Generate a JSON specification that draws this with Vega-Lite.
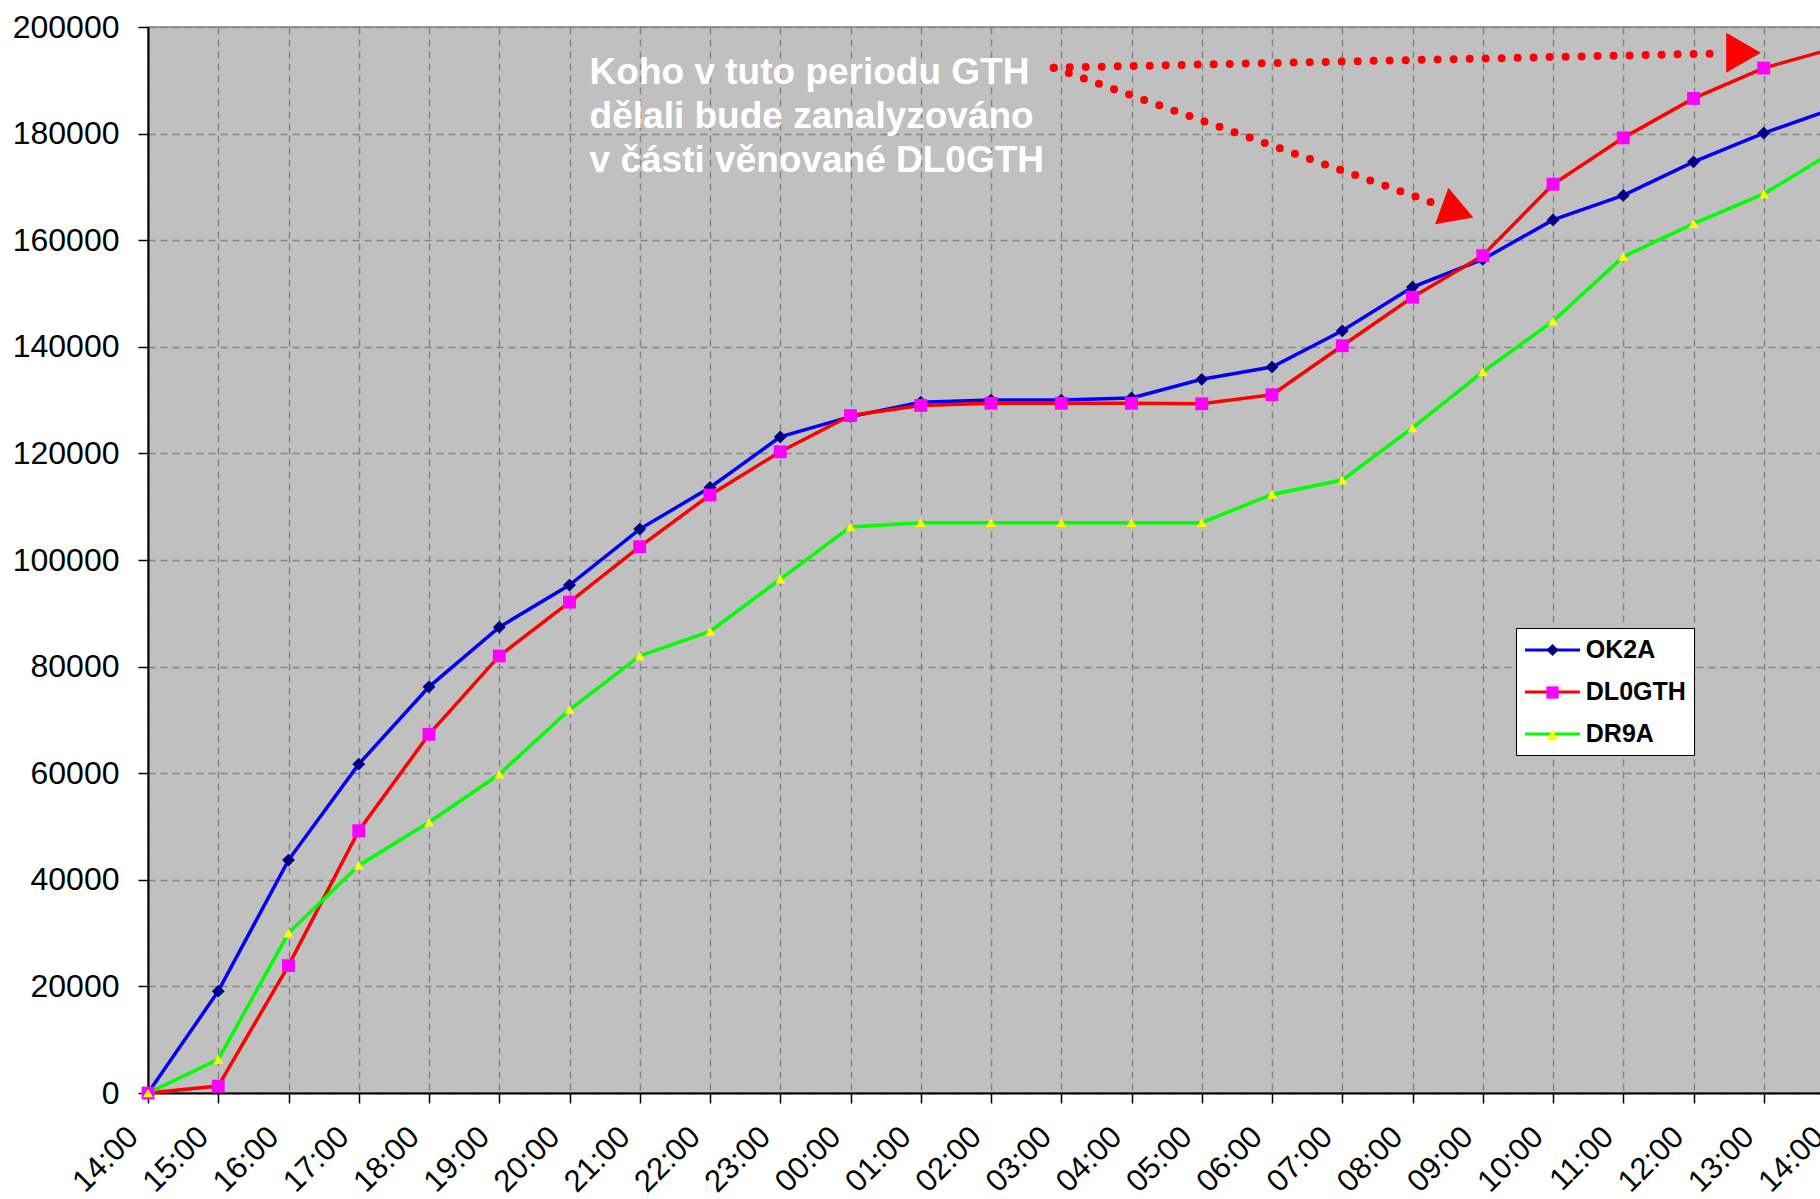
{
  "$schema": "https://vega.github.io/schema/vega-lite/v6.json",
  "width": 1686,
  "height": 1066,
  "autosize": {"type": "none"},
  "padding": {"left": 148, "top": 27, "right": 0, "bottom": 106},
  "background": "#ffffff",
  "config": {
    "font": "Liberation Sans",
    "view": {"fill": "#c0c0c0", "stroke": "#808080", "strokeWidth": 1.5},
    "axis": {
      "domainColor": "#000000",
      "domainWidth": 2,
      "tickColor": "#000000",
      "tickWidth": 1.5,
      "tickSize": 10,
      "labelColor": "#000000",
      "labelFont": "Liberation Sans",
      "grid": true,
      "gridColor": "#858585",
      "gridDash": [7, 5],
      "gridWidth": 1.5
    }
  },
  "datasets": {
    "scores": [
      {"time": "2000-01-01T14:00", "station": "OK2A", "score": 0},
      {"time": "2000-01-01T15:00", "station": "OK2A", "score": 19100},
      {"time": "2000-01-01T16:00", "station": "OK2A", "score": 43700},
      {"time": "2000-01-01T17:00", "station": "OK2A", "score": 61700},
      {"time": "2000-01-01T18:00", "station": "OK2A", "score": 76200},
      {"time": "2000-01-01T19:00", "station": "OK2A", "score": 87400},
      {"time": "2000-01-01T20:00", "station": "OK2A", "score": 95300},
      {"time": "2000-01-01T21:00", "station": "OK2A", "score": 105800},
      {"time": "2000-01-01T22:00", "station": "OK2A", "score": 113600},
      {"time": "2000-01-01T23:00", "station": "OK2A", "score": 123100},
      {"time": "2000-01-02T00:00", "station": "OK2A", "score": 126900},
      {"time": "2000-01-02T01:00", "station": "OK2A", "score": 129600},
      {"time": "2000-01-02T02:00", "station": "OK2A", "score": 130000},
      {"time": "2000-01-02T03:00", "station": "OK2A", "score": 130000},
      {"time": "2000-01-02T04:00", "station": "OK2A", "score": 130400},
      {"time": "2000-01-02T05:00", "station": "OK2A", "score": 133900},
      {"time": "2000-01-02T06:00", "station": "OK2A", "score": 136200},
      {"time": "2000-01-02T07:00", "station": "OK2A", "score": 143000},
      {"time": "2000-01-02T08:00", "station": "OK2A", "score": 151200},
      {"time": "2000-01-02T09:00", "station": "OK2A", "score": 156400},
      {"time": "2000-01-02T10:00", "station": "OK2A", "score": 163800},
      {"time": "2000-01-02T11:00", "station": "OK2A", "score": 168400},
      {"time": "2000-01-02T12:00", "station": "OK2A", "score": 174700},
      {"time": "2000-01-02T13:00", "station": "OK2A", "score": 180100},
      {"time": "2000-01-02T14:00", "station": "OK2A", "score": 184700},
      {"time": "2000-01-01T14:00", "station": "DL0GTH", "score": 0},
      {"time": "2000-01-01T15:00", "station": "DL0GTH", "score": 1300},
      {"time": "2000-01-01T16:00", "station": "DL0GTH", "score": 23900},
      {"time": "2000-01-01T17:00", "station": "DL0GTH", "score": 49200},
      {"time": "2000-01-01T18:00", "station": "DL0GTH", "score": 67300},
      {"time": "2000-01-01T19:00", "station": "DL0GTH", "score": 82000},
      {"time": "2000-01-01T20:00", "station": "DL0GTH", "score": 92100},
      {"time": "2000-01-01T21:00", "station": "DL0GTH", "score": 102500},
      {"time": "2000-01-01T22:00", "station": "DL0GTH", "score": 112200},
      {"time": "2000-01-01T23:00", "station": "DL0GTH", "score": 120300},
      {"time": "2000-01-02T00:00", "station": "DL0GTH", "score": 127100},
      {"time": "2000-01-02T01:00", "station": "DL0GTH", "score": 129000},
      {"time": "2000-01-02T02:00", "station": "DL0GTH", "score": 129400},
      {"time": "2000-01-02T03:00", "station": "DL0GTH", "score": 129400},
      {"time": "2000-01-02T04:00", "station": "DL0GTH", "score": 129400},
      {"time": "2000-01-02T05:00", "station": "DL0GTH", "score": 129300},
      {"time": "2000-01-02T06:00", "station": "DL0GTH", "score": 131000},
      {"time": "2000-01-02T07:00", "station": "DL0GTH", "score": 140200},
      {"time": "2000-01-02T08:00", "station": "DL0GTH", "score": 149300},
      {"time": "2000-01-02T09:00", "station": "DL0GTH", "score": 157100},
      {"time": "2000-01-02T10:00", "station": "DL0GTH", "score": 170500},
      {"time": "2000-01-02T11:00", "station": "DL0GTH", "score": 179200},
      {"time": "2000-01-02T12:00", "station": "DL0GTH", "score": 186600},
      {"time": "2000-01-02T13:00", "station": "DL0GTH", "score": 192300},
      {"time": "2000-01-02T14:00", "station": "DL0GTH", "score": 196000},
      {"time": "2000-01-01T14:00", "station": "DR9A", "score": 0},
      {"time": "2000-01-01T15:00", "station": "DR9A", "score": 6300},
      {"time": "2000-01-01T16:00", "station": "DR9A", "score": 30000},
      {"time": "2000-01-01T17:00", "station": "DR9A", "score": 42700},
      {"time": "2000-01-01T18:00", "station": "DR9A", "score": 50800},
      {"time": "2000-01-01T19:00", "station": "DR9A", "score": 59800},
      {"time": "2000-01-01T20:00", "station": "DR9A", "score": 71900},
      {"time": "2000-01-01T21:00", "station": "DR9A", "score": 82000},
      {"time": "2000-01-01T22:00", "station": "DR9A", "score": 86600},
      {"time": "2000-01-01T23:00", "station": "DR9A", "score": 96400},
      {"time": "2000-01-02T00:00", "station": "DR9A", "score": 106200},
      {"time": "2000-01-02T01:00", "station": "DR9A", "score": 107000},
      {"time": "2000-01-02T02:00", "station": "DR9A", "score": 107000},
      {"time": "2000-01-02T03:00", "station": "DR9A", "score": 107000},
      {"time": "2000-01-02T04:00", "station": "DR9A", "score": 107000},
      {"time": "2000-01-02T05:00", "station": "DR9A", "score": 107000},
      {"time": "2000-01-02T06:00", "station": "DR9A", "score": 112300},
      {"time": "2000-01-02T07:00", "station": "DR9A", "score": 115000},
      {"time": "2000-01-02T08:00", "station": "DR9A", "score": 124800},
      {"time": "2000-01-02T09:00", "station": "DR9A", "score": 135300},
      {"time": "2000-01-02T10:00", "station": "DR9A", "score": 144800},
      {"time": "2000-01-02T11:00", "station": "DR9A", "score": 156900},
      {"time": "2000-01-02T12:00", "station": "DR9A", "score": 163100},
      {"time": "2000-01-02T13:00", "station": "DR9A", "score": 168700},
      {"time": "2000-01-02T14:00", "station": "DR9A", "score": 176700}
    ],
    "arrows": [
      {"part": "top", "time": "2000-01-02T02:53:35", "score": 192364},
      {"part": "top", "time": "2000-01-02T12:20:56", "score": 195028},
      {"part": "down", "time": "2000-01-02T02:53:35", "score": 192364},
      {"part": "down", "time": "2000-01-02T08:15:43", "score": 167147}
    ],
    "headTop": [{"time": "2000-01-02T12:42:43", "score": 195178}],
    "headDown": [{"time": "2000-01-02T08:38:27", "score": 165347}],
    "note": [
      {"time": "2000-01-01T20:17:10", "score": 189306, "note": "Koho v tuto periodu GTH\ndělali bude zanalyzováno\nv části věnované DL0GTH"}
    ]
  },
  "encoding": {
    "x": {
      "field": "time",
      "type": "temporal",
      "scale": {
        "domain": [
          {"year": 2000, "month": 1, "date": 1, "hours": 14},
          {"year": 2000, "month": 1, "date": 2, "hours": 14}
        ],
        "nice": false
      },
      "axis": {
        "title": null,
        "format": "%H:%M",
        "values": [
          {"year": 2000, "month": 1, "date": 1, "hours": 14},
          {"year": 2000, "month": 1, "date": 1, "hours": 15},
          {"year": 2000, "month": 1, "date": 1, "hours": 16},
          {"year": 2000, "month": 1, "date": 1, "hours": 17},
          {"year": 2000, "month": 1, "date": 1, "hours": 18},
          {"year": 2000, "month": 1, "date": 1, "hours": 19},
          {"year": 2000, "month": 1, "date": 1, "hours": 20},
          {"year": 2000, "month": 1, "date": 1, "hours": 21},
          {"year": 2000, "month": 1, "date": 1, "hours": 22},
          {"year": 2000, "month": 1, "date": 1, "hours": 23},
          {"year": 2000, "month": 1, "date": 2, "hours": 0},
          {"year": 2000, "month": 1, "date": 2, "hours": 1},
          {"year": 2000, "month": 1, "date": 2, "hours": 2},
          {"year": 2000, "month": 1, "date": 2, "hours": 3},
          {"year": 2000, "month": 1, "date": 2, "hours": 4},
          {"year": 2000, "month": 1, "date": 2, "hours": 5},
          {"year": 2000, "month": 1, "date": 2, "hours": 6},
          {"year": 2000, "month": 1, "date": 2, "hours": 7},
          {"year": 2000, "month": 1, "date": 2, "hours": 8},
          {"year": 2000, "month": 1, "date": 2, "hours": 9},
          {"year": 2000, "month": 1, "date": 2, "hours": 10},
          {"year": 2000, "month": 1, "date": 2, "hours": 11},
          {"year": 2000, "month": 1, "date": 2, "hours": 12},
          {"year": 2000, "month": 1, "date": 2, "hours": 13},
          {"year": 2000, "month": 1, "date": 2, "hours": 14}
        ],
        "labelAngle": -45,
        "labelAlign": "right",
        "labelBaseline": "middle",
        "labelPadding": 29,
        "labelOffset": -15,
        "labelFontSize": 31,
        "labelOverlap": false,
        "labelFlush": false
      }
    },
    "y": {
      "field": "score",
      "type": "quantitative",
      "scale": {"domain": [0, 200000], "nice": false},
      "axis": {
        "title": null,
        "values": [0, 20000, 40000, 60000, 80000, 100000, 120000, 140000, 160000, 180000, 200000],
        "format": "d",
        "labelFontSize": 32,
        "labelPadding": 19,
        "labelBaseline": "middle"
      }
    }
  },
  "layer": [
    {
      "data": {"name": "scores"},
      "mark": {"type": "line", "strokeWidth": 3.5},
      "encoding": {
        "color": {
          "field": "station",
          "type": "nominal",
          "sort": ["OK2A", "DL0GTH", "DR9A"],
          "scale": {"range": ["#0000ff", "#ff0000", "#00ff00"]},
          "legend": {
            "orient": "none",
            "legendX": 1368,
            "legendY": 601,
            "direction": "vertical",
            "title": null,
            "fillColor": "#ffffff",
            "strokeColor": "#000000",
            "padding": 8,
            "symbolType": "M-2.2,0L2.2,0",
            "symbolSize": 625,
            "symbolStrokeWidth": 3,
            "symbolOffset": 14.5,
            "labelFont": "Liberation Sans",
            "labelFontSize": 25,
            "labelFontWeight": "bold",
            "labelColor": "#000000",
            "labelOffset": 19.3,
            "rowPadding": 15,
            "zindex": 1
          }
        }
      }
    },
    {
      "data": {"name": "scores"},
      "transform": [{"filter": "datum.station !== 'DR9A'"}],
      "mark": {"type": "point", "filled": true, "opacity": 1, "strokeWidth": 0, "size": 165},
      "encoding": {
        "fill": {
          "field": "station",
          "type": "nominal",
          "scale": {"domain": ["OK2A", "DL0GTH", "DR9A"], "range": ["#000080", "#ff00ff", "#ffff00"]},
          "legend": {
            "orient": "none",
            "legendX": 1368,
            "legendY": 602.5,
            "direction": "vertical",
            "title": null,
            "padding": 8,
            "symbolOffset": 16,
            "symbolSize": 150,
            "symbolStrokeWidth": 0,
            "symbolOpacity": 1,
            "labelExpr": "''",
            "labelOpacity": 0,
            "labelOffset": 20.7,
            "labelFont": "Liberation Sans",
            "labelFontSize": 25,
            "labelFontWeight": "bold",
            "rowPadding": 16.5,
            "zindex": 2
          }
        },
        "shape": {
          "field": "station",
          "type": "nominal",
          "scale": {"domain": ["OK2A", "DL0GTH", "DR9A"], "range": ["diamond", "square", "triangle-up"]}
        }
      }
    },
    {
      "data": {"name": "scores"},
      "transform": [{"filter": "datum.station === 'DR9A'"}],
      "mark": {"type": "point", "filled": true, "opacity": 1, "strokeWidth": 0, "size": 100},
      "encoding": {
        "fill": {"field": "station", "type": "nominal"},
        "shape": {"field": "station", "type": "nominal"}
      }
    },
    {
      "data": {"name": "arrows"},
      "mark": {"type": "line", "color": "#ff0000", "strokeWidth": 8, "strokeCap": "round", "strokeDash": [0, 16]},
      "encoding": {"detail": {"field": "part", "type": "nominal"}}
    },
    {
      "data": {"name": "headTop"},
      "mark": {"type": "point", "shape": "triangle-right", "filled": true, "color": "#ff0000", "opacity": 1, "size": 1600, "angle": 0},
      "encoding": {}
    },
    {
      "data": {"name": "headDown"},
      "mark": {"type": "point", "shape": "triangle-right", "filled": true, "color": "#ff0000", "opacity": 1, "size": 1500, "angle": 20},
      "encoding": {}
    },
    {
      "data": {"name": "note"},
      "mark": {
        "type": "text",
        "align": "left",
        "baseline": "alphabetic",
        "font": "Liberation Sans",
        "fontSize": 37,
        "fontWeight": "bold",
        "color": "#ffffff",
        "lineHeight": 44,
        "lineBreak": "\n"
      },
      "encoding": {"text": {"field": "note", "type": "nominal"}}
    }
  ]
}
